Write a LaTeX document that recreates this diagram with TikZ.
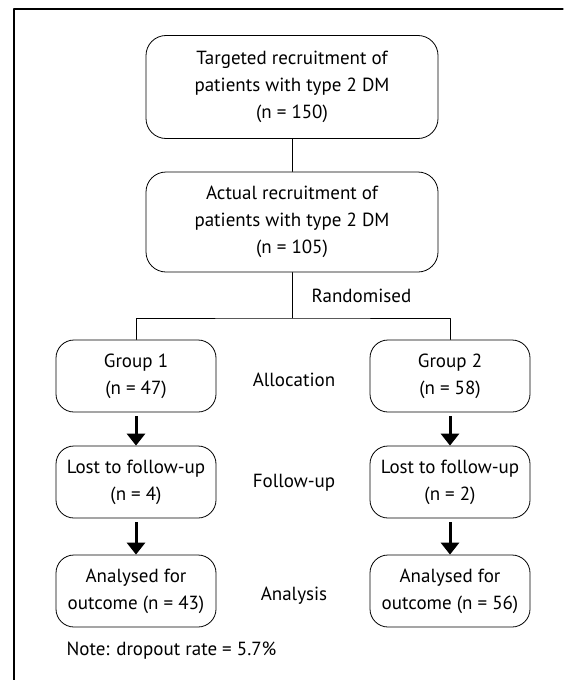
\documentclass[tikz,border=0pt]{standalone}
\usepackage{fontspec}
\setmainfont{PT Sans}
\usetikzlibrary{arrows.meta}
\begin{document}
\begin{tikzpicture}[x=1pt, y=1pt, font=\fontsize{19}{27}\selectfont, line join=round, line cap=round,
	box/.style={draw, rounded corners=18pt, align=center, line width=0.8pt, inner sep=0pt},
	fat/.style={-{Triangle[width=18pt,length=12pt]}, line width=3pt, line cap=butt, shorten <=4pt}]
		\useasboundingbox (0,0) rectangle (563,-680);
		\draw[line width=1.2pt] (14,-680) -- (14,-9) -- (563,-9);
		\node[box, rounded corners=20pt, minimum width=292, minimum height=103] (target) at (292,-87) {Targeted recruitment of\\patients with type 2 DM\\(n = 150)};
		\node[box, rounded corners=20pt, minimum width=292, minimum height=100] (actual) at (292,-222) {Actual recruitment of\\patients with type 2 DM\\(n = 105)};
		\draw (target) -- (actual);
		\coordinate (split) at (292,-318);
		\draw (actual) -- (split);
		\node[anchor=base west] (rand) at (308,-302) {Randomised};
		\foreach \i/\x/\a/\b/\c in {1/136/47/4/43, 2/450/58/2/56} {
			\node[box, minimum width=160, minimum height=72] (group\i) at (\x,-376) {Group \i\\(n = \a)};
			\node[box, minimum width=160, minimum height=72] (lost\i) at (\x,-482) {Lost to follow-up\\(n = \b)};
			\node[box, minimum width=160, minimum height=72] (anal\i) at (\x,-591) {Analysed for\\outcome (n = \c)};
			\draw[fat] (group\i) -- (lost\i);
			\draw[fat] (lost\i) -- (anal\i);
		}
		\draw (group1.north) |- (split) -| (group2.north);
		\node (alloc) at (294,-380) {Allocation};
		\node (follow) at (294,-483) {Follow-up};
		\node (analysis) at (294,-596) {Analysis};
		\node[anchor=base west] (note) at (63,-655) {Note: dropout rate = 5.7\%};
	\end{tikzpicture}
\end{document}
